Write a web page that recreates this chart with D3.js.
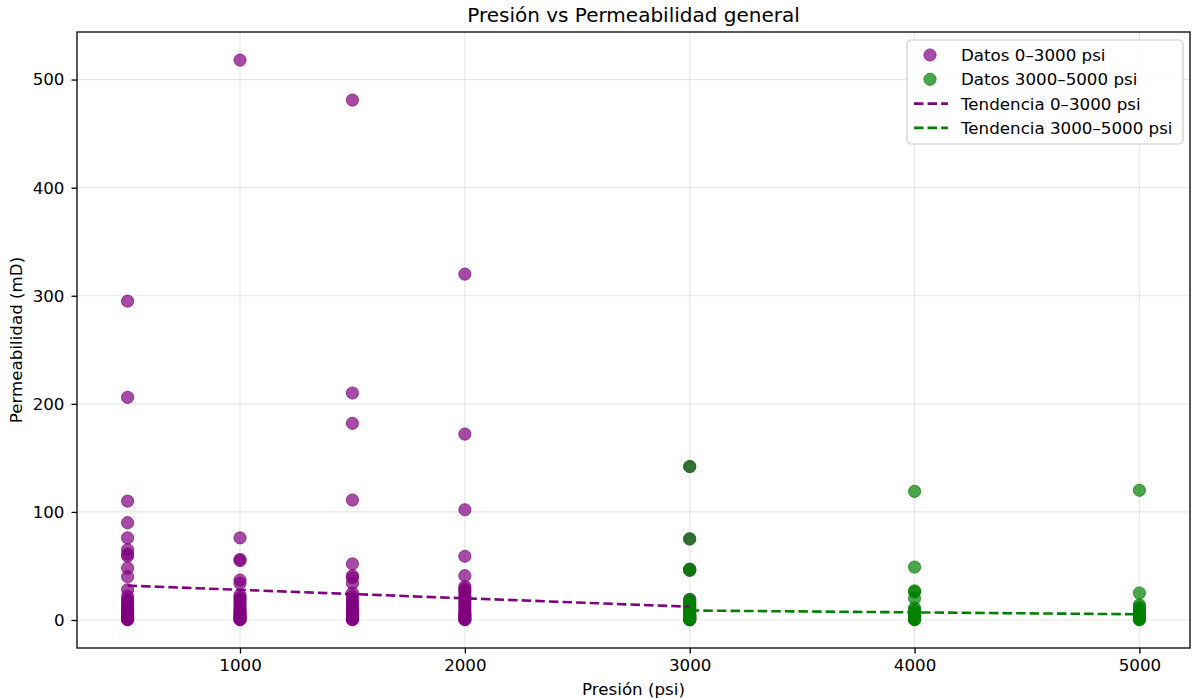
<!DOCTYPE html>
<html><head><meta charset="utf-8">
<script src="https://cdn.jsdelivr.net/npm/d3@7"></script>
<style>body{margin:0;background:#fff;} text{font-family:"DejaVu Sans",sans-serif;fill:#000;}</style>
</head><body><svg id="c" width="1193" height="699"></svg>
<script>
// ---- data ----
const lowPressures = [500, 1000, 1500, 2000, 3000];
const highPressures = [3000, 4000, 5000];
const perm500 = [295, 206, 110, 90, 76, 65, 61, 59, 48, 40, 28, 22, 19, 17, 15, 13, 12, 10, 9, 8, 7, 6, 5, 4, 3, 2.5, 2, 1.5, 1, 0.5, 0.2];
const perm1000 = [518, 76, 56, 55, 37, 34, 23, 21, 19, 17, 15, 13, 11, 10, 8, 7, 6, 5, 4, 3, 2, 1.5, 1, 0.5, 0.2];
const perm1500 = [481, 210, 182, 111, 52, 41, 39, 34, 25, 22, 19, 17, 15, 13, 11, 9, 8, 6, 5, 4, 3, 2, 1, 0.5, 0.2];
const perm2000 = [320, 172, 102, 59, 41, 31, 29, 27, 25, 22, 20, 18, 16, 14, 12, 10, 8, 6, 5, 4, 3, 2, 1, 0.5, 0.2];
const perm3000 = [142, 75, 47, 46, 19, 17, 15, 13, 11, 9, 7, 5, 4, 3, 2, 1, 0.5, 0.2];
const perm4000 = [119, 49, 27, 26, 20, 11, 9, 7, 5, 4, 3, 2, 1, 0.5, 0.2];
const perm5000 = [120, 25, 14, 12, 10, 8, 6, 5, 4, 3, 2, 1, 0.5, 0.2];
const trendLowX = [500, 3000];
const trendLowY = [31.8, 12.3];
const trendHighX = [3000, 5000];
const trendHighY = [8.8, 5.3];
const xTicks = [1000, 2000, 3000, 4000, 5000];
const yTicks = [0, 100, 200, 300, 400, 500];
const legendLabels = ["Datos 0–3000 psi", "Datos 3000–5000 psi", "Tendencia 0–3000 psi", "Tendencia 3000–5000 psi"];

const permByPressure = new Map([[500, perm500], [1000, perm1000], [1500, perm1500], [2000, perm2000], [3000, perm3000], [4000, perm4000], [5000, perm5000]]);
const lowPts = lowPressures.flatMap(p => permByPressure.get(p).map(v => ({x: p, y: v})));
const highPts = highPressures.flatMap(p => permByPressure.get(p).map(v => ({x: p, y: v})));

const PURPLE = "#800080", GREEN = "#008000";
const L = 77, R = 1190, T = 32, B = 648;
const FS = 16.7;
const svg = d3.select("#c");
const x = d3.scaleLinear().domain([275, 5225]).range([L, R]);
const y = d3.scaleLinear().domain([-25.9, 544]).range([B, T]);

// grid
const g = svg.append("g");
g.selectAll(".gx").data(xTicks).join("line").attr("x1", d => x(d)).attr("x2", d => x(d)).attr("y1", T).attr("y2", B).attr("stroke", "#b0b0b0").attr("stroke-opacity", 0.3).attr("stroke-width", 1.2);
g.selectAll(".gy").data(yTicks).join("line").attr("y1", d => y(d)).attr("y2", d => y(d)).attr("x1", L).attr("x2", R).attr("stroke", "#b0b0b0").attr("stroke-opacity", 0.3).attr("stroke-width", 1.2);

// scatter
const r = 6.1;
svg.append("g").selectAll("circle").data(lowPts).join("circle").attr("cx", d => x(d.x)).attr("cy", d => y(d.y)).attr("r", r)
  .attr("fill", PURPLE).attr("fill-opacity", 0.7).attr("stroke", PURPLE).attr("stroke-opacity", 0.7).attr("stroke-width", 1);
svg.append("g").selectAll("circle").data(highPts).join("circle").attr("cx", d => x(d.x)).attr("cy", d => y(d.y)).attr("r", r)
  .attr("fill", GREEN).attr("fill-opacity", 0.7).attr("stroke", GREEN).attr("stroke-opacity", 0.7).attr("stroke-width", 1);

// trend lines
const DASH = "9.5,4.1", LW = 2.6;
const line = d3.line().x(d => x(d[0])).y(d => y(d[1]));
svg.append("path").attr("d", line(d3.zip(trendLowX, trendLowY))).attr("fill", "none").attr("stroke", PURPLE).attr("stroke-width", LW).attr("stroke-dasharray", DASH);
svg.append("path").attr("d", line(d3.zip(trendHighX, trendHighY))).attr("fill", "none").attr("stroke", GREEN).attr("stroke-width", LW).attr("stroke-dasharray", DASH);

// axes
const xAxis = d3.axisBottom(x).tickValues(xTicks).tickFormat(d3.format("d")).tickSize(5.5).tickPadding(5.8);
const yAxis = d3.axisLeft(y).tickValues(yTicks).tickFormat(d3.format("d")).tickSize(5.5).tickPadding(7);
const xa = svg.append("g").attr("transform", `translate(0,${B})`).call(xAxis);
const ya = svg.append("g").attr("transform", `translate(${L},0)`).call(yAxis);
[xa, ya].forEach(a => { a.select(".domain").remove(); a.selectAll("line").attr("stroke", "#000").attr("stroke-width", 1.3); a.selectAll("text").attr("font-size", FS).attr("font-family", "DejaVu Sans").attr("fill", "#000"); });
svg.append("rect").attr("x", L).attr("y", T).attr("width", R - L).attr("height", B - T).attr("fill", "none").attr("stroke", "#000").attr("stroke-width", 1.3);

// labels
svg.append("text").attr("x", (L + R) / 2).attr("y", 22).attr("text-anchor", "middle").attr("font-size", 20).text("Presión vs Permeabilidad general");
svg.append("text").attr("x", (L + R) / 2).attr("y", 695).attr("text-anchor", "middle").attr("font-size", FS).text("Presión (psi)");
svg.append("text").attr("transform", `translate(22,${(T + B) / 2}) rotate(-90)`).attr("text-anchor", "middle").attr("font-size", FS).text("Permeabilidad (mD)");

// legend
const lg = svg.append("g").attr("transform", "translate(907,40)");
lg.append("rect").attr("width", 276).attr("height", 104).attr("rx", 4).attr("fill", "#fff").attr("fill-opacity", 0.8).attr("stroke", "#cccccc").attr("stroke-width", 1.2);
legendLabels.forEach((lab, i) => {
  const cy = 15 + i * 24.3;
  const col = i % 2 === 0 ? PURPLE : GREEN;
  if (i < 2) {
    lg.append("circle").attr("cx", 23).attr("cy", cy).attr("r", r).attr("fill", col).attr("fill-opacity", 0.7).attr("stroke", col).attr("stroke-opacity", 0.7);
  } else {
    lg.append("line").attr("x1", 7).attr("x2", 41).attr("y1", cy).attr("y2", cy).attr("stroke", col).attr("stroke-width", LW).attr("stroke-dasharray", DASH);
  }
  lg.append("text").attr("x", 54).attr("y", cy + 6).attr("font-size", FS).text(lab);
});
</script></body></html>
